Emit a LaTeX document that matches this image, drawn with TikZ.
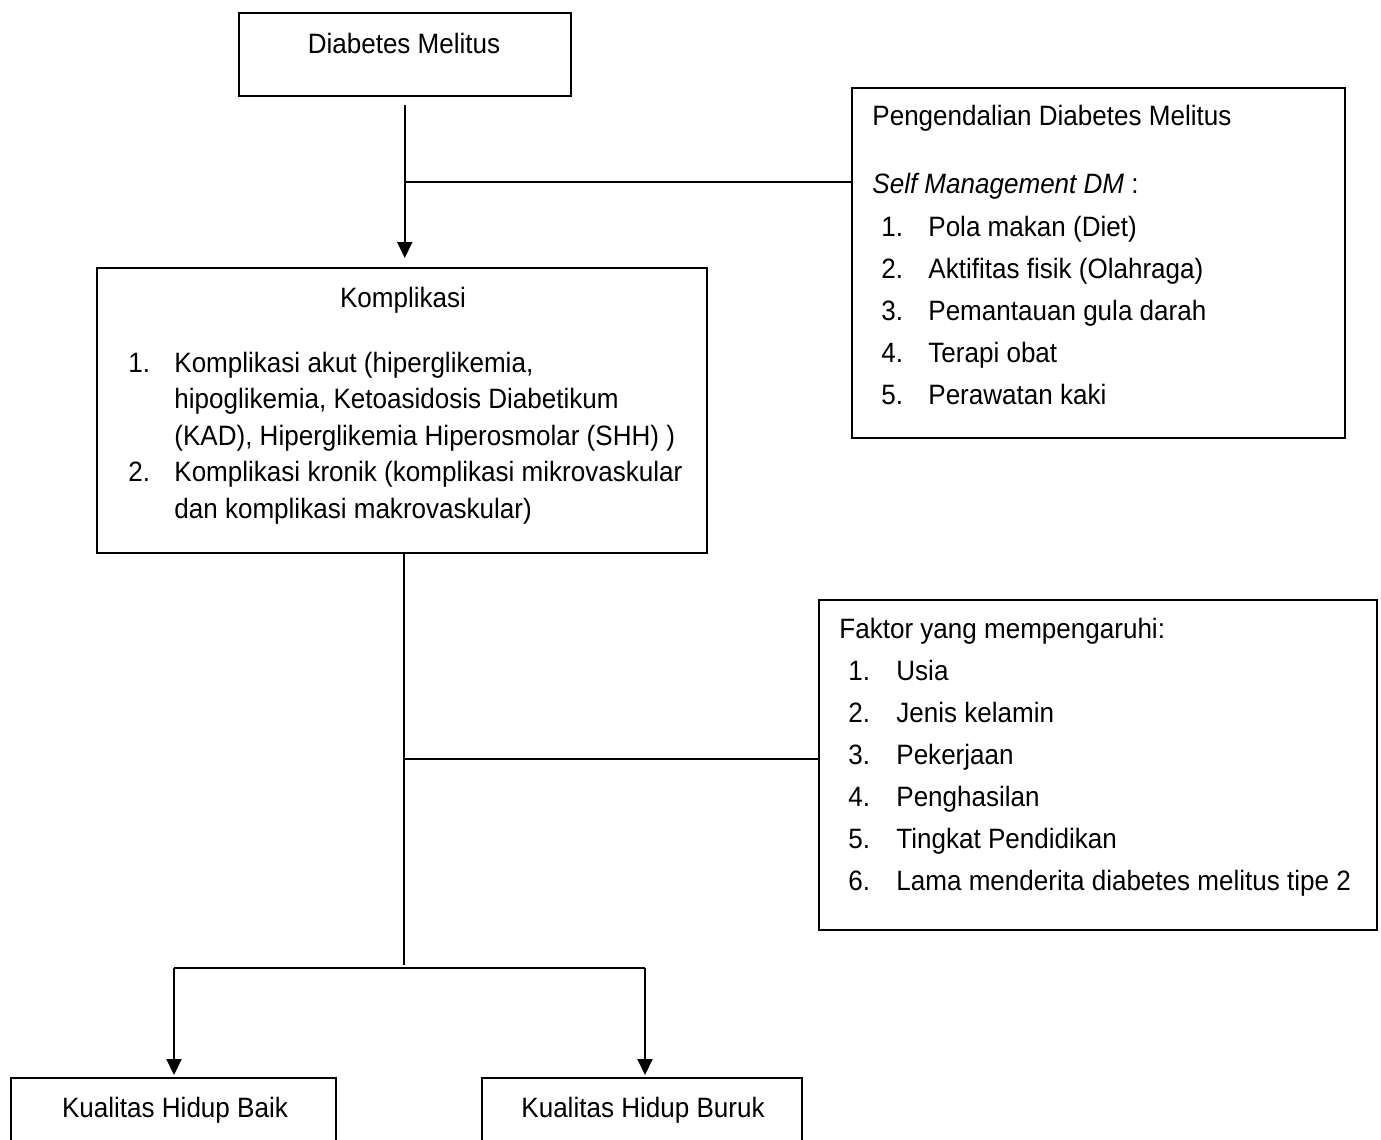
\documentclass[tikz,border=0pt]{standalone}
\usepackage{fontspec}
\setmainfont{Liberation Sans}[FakeStretch=0.93]
\usetikzlibrary{arrows.meta}
\tikzset{
  box/.style={draw, line width=0.75pt, inner sep=0pt, anchor=north west},
  link/.style={line width=1pt},
  arr/.style={link, -{Triangle[length=8pt,width=7.5pt]}},
  txt/.style={inner sep=0pt, anchor=base west, font=\fontsize{14}{21}\selectfont},
}
\begin{document}
\begin{tikzpicture}[x=0.5pt, y=-0.5pt]
  \useasboundingbox (0,0) rectangle (1381,1140);
  % boxes
  \node[box, minimum width=166pt, minimum height=41.5pt] (dm) at (238,12) {};
  \node[box, minimum width=305pt, minimum height=142.5pt] (komp) at (96,267) {};
  \node[box, minimum width=246.5pt, minimum height=175pt] (pdm) at (851,87) {};
  \node[box, minimum width=279pt, minimum height=165pt] (fak) at (818,599) {};
  \node[box, minimum width=162.5pt, minimum height=50pt] (baik) at (10,1077) {};
  \node[box, minimum width=160pt, minimum height=50pt] (buruk) at (481,1077) {};

  % texts
  \node[txt, anchor=base] (dmt) at (404,53) {Diabetes Melitus};
  \node[txt, anchor=base] (kt) at (403,307) {Komplikasi};
  \node[txt, font=\fontsize{14}{18.25}\selectfont] (kl) at (128,372) {%
    \begin{tabular}[t]{@{}p{23pt}@{}l@{}}
    1. & Komplikasi akut (hiperglikemia,\\
       & hipoglikemia, Ketoasidosis Diabetikum\\
       & (KAD), Hiperglikemia Hiperosmolar (SHH) )\\
    2. & Komplikasi kronik (komplikasi mikrovaskular\\
       & dan komplikasi makrovaskular)
    \end{tabular}};
  \node[txt] (pt) at (872,125) {Pengendalian Diabetes Melitus};
  \node[txt] (ps) at (872,193) {{\itshape Self Management DM} :};
  \node[txt] (pl) at (881,236) {%
    \begin{tabular}[t]{@{}p{23.5pt}@{}l@{}}
    1. & Pola makan (Diet)\\
    2. & Aktifitas fisik (Olahraga)\\
    3. & Pemantauan gula darah\\
    4. & Terapi obat\\
    5. & Perawatan kaki
    \end{tabular}};
  \node[txt] (ft) at (839,638) {Faktor yang mempengaruhi:};
  \node[txt] (fl) at (848,680) {%
    \begin{tabular}[t]{@{}p{24pt}@{}l@{}}
    1. & Usia\\
    2. & Jenis kelamin\\
    3. & Pekerjaan\\
    4. & Penghasilan\\
    5. & Tingkat Pendidikan\\
    6. & Lama menderita diabetes melitus tipe 2
    \end{tabular}};
  \node[txt, anchor=base] (bt) at (175,1117) {Kualitas Hidup Baik};
  \node[txt, anchor=base] (rt) at (643,1117) {Kualitas Hidup Buruk};

  % connectors
  \coordinate (j1) at (404,182);
  \coordinate (j2) at (404,759);
  \coordinate (j3) at (404,965);
  \coordinate (bl) at (174,968);
  \coordinate (br) at (645,968);
  \draw[arr, shorten <=4pt, shorten >=4.5pt] (dm.south) -- (dm.south |- komp.north);
  \draw[link] (j1) -- (j1 -| pdm.west);
  \draw[link] (j1 |- komp.south) -- (j3);
  \draw[link] (j2) -- (j2 -| fak.west);
  \draw[link] (bl) -- (br);
  \draw[arr, shorten >=1pt] (bl) -- (bl |- baik.north);
  \draw[arr, shorten >=1pt] (br) -- (br |- buruk.north);
\end{tikzpicture}
\end{document}
